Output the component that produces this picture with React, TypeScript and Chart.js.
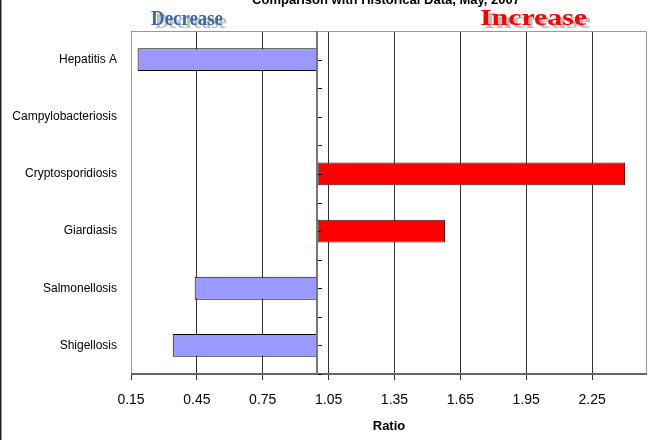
import React, { useEffect, useRef } from "react";
import { Chart, registerables } from "chart.js";

Chart.register(...registerables);

const categories = [
  "Hepatitis A",
  "Campylobacteriosis",
  "Cryptosporidiosis",
  "Giardiasis",
  "Salmonellosis",
  "Shigellosis",
];
const ratios: (number | null)[] = [0.18, null, 2.4, 1.58, 0.44, 0.34];
const baseline = 1.0;
const xTickValues = [0.15, 0.45, 0.75, 1.05, 1.35, 1.65, 1.95, 2.25];
const xMin = 0.15;
const xMax = 2.5;
const titleText = "Comparison with Historical Data, May, 2007";
const axisTitle = "Ratio";
const decreaseText = "Decrease";
const increaseText = "Increase";

const SANS = "'Liberation Sans', Arial, sans-serif";
const SERIF = "'Liberation Serif', 'Times New Roman', serif";

const overlay = {
  id: "overlay",
  afterDatasetsDraw(chart: any) {
    const { ctx, chartArea: a, scales } = chart;
    const x = scales.x;
    const y = scales.y;
    ctx.save();
    ctx.strokeStyle = "#999";
    ctx.lineWidth = 1;
    ctx.beginPath();
    ctx.moveTo(a.left + 0.5, a.bottom);
    ctx.lineTo(a.left + 0.5, a.top + 0.5);
    ctx.lineTo(a.right - 0.5, a.top + 0.5);
    ctx.lineTo(a.right - 0.5, a.bottom);
    ctx.stroke();
    ctx.strokeStyle = "#666";
    ctx.lineWidth = 2;
    ctx.beginPath();
    ctx.moveTo(a.left, a.bottom);
    ctx.lineTo(a.right, a.bottom);
    ctx.stroke();
    const bx = Math.round(x.getPixelForValue(baseline));
    ctx.strokeStyle = "#777";
    ctx.lineWidth = 2;
    ctx.beginPath();
    ctx.moveTo(bx - 1, a.top);
    ctx.lineTo(bx - 1, a.bottom);
    ctx.stroke();
    ctx.strokeStyle = "#000";
    ctx.lineWidth = 1;
    const n = categories.length;
    const h = (a.bottom - a.top) / n;
    ctx.beginPath();
    for (let i = 0; i < n; i++) {
      const c = Math.round(y.getPixelForValue(i)) + 0.5;
      const b = Math.round(y.getPixelForValue(i) + h / 2) + 0.5;
      ctx.moveTo(bx, c);
      ctx.lineTo(bx + 4, c);
      ctx.moveTo(bx, b);
      ctx.lineTo(bx + 4, b);
    }
    ctx.stroke();
    ctx.restore();
  },
  afterDraw(chart: any) {
    const { ctx, chartArea: a } = chart;
    ctx.save();
    ctx.fillStyle = "#222";
    ctx.fillRect(0, 0, 1.5, chart.height);
    ctx.fillStyle = "#000";
    ctx.font = `bold 13px ${SANS}`;
    ctx.textAlign = "center";
    ctx.textBaseline = "alphabetic";
    ctx.fillText(titleText, (a.left + a.right) / 2 - 3, 4);

    const drawWord = (
      text: string,
      left: number,
      base: number,
      size: number,
      width: number,
      color: string
    ) => {
      ctx.font = `bold ${size}px ${SERIF}`;
      ctx.textAlign = "left";
      const m = ctx.measureText(text).width;
      const sx = width / m;
      ctx.save();
      ctx.translate(left, base);
      ctx.scale(sx, 1);
      ctx.fillStyle = "#bdbdbd";
      ctx.fillText(text, 4 / sx, 3);
      ctx.fillStyle = color;
      ctx.fillText(text, 0, 0);
      ctx.restore();
    };
    drawWord(decreaseText, 151, 25, 20, 72, "#3A6BA5");
    drawWord(increaseText, 480, 25, 24, 107, "#FF0000");
    ctx.restore();
  },
};

export default function App() {
  const ref = useRef<HTMLCanvasElement | null>(null);
  useEffect(() => {
    document.body.style.margin = "0";
    const canvas = ref.current;
    if (!canvas) return;
    const data = ratios.map((v) =>
      v == null ? null : [Math.min(v, baseline), Math.max(v, baseline)]
    );
    const chart = new Chart(canvas, {
      type: "bar",
      data: {
        labels: categories,
        datasets: [
          {
            data: data as any,
            backgroundColor: ratios.map((v) =>
              v != null && v >= baseline ? "#FF0000" : "#9999FF"
            ),
            borderColor: ratios.map((v) =>
              v != null && v >= baseline ? "#3a1a1a" : "#000000"
            ),
            borderWidth: 1,
            borderSkipped: false,
            barPercentage: 0.4,
            categoryPercentage: 1,
          },
        ],
      },
      plugins: [overlay],
      options: {
        indexAxis: "y",
        animation: false,
        responsive: false,
        layout: { padding: { top: 31, right: 13, left: 0, bottom: 0 } },
        plugins: {
          legend: { display: false },
          tooltip: { enabled: false },
          title: { display: false },
        },
        scales: {
          x: {
            type: "linear",
            min: xMin,
            max: xMax,
            afterBuildTicks: (scale: any) => {
              scale.ticks = xTickValues.map((v) => ({ value: v }));
            },
            afterFit: (scale: any) => {
              scale.height = 66;
            },
            grid: {
              color: "#333",
              lineWidth: 1,
              drawTicks: true,
              tickLength: 6,
              tickColor: "#333",
            },
            border: { display: false },
            ticks: {
              color: "#000",
              font: { family: SANS, size: 14 },
              padding: 12,
              maxRotation: 0,
              callback: (v: any) => Number(v).toFixed(2),
            },
            title: {
              display: true,
              text: axisTitle,
              color: "#000",
              font: { family: SANS, size: 13, weight: "bold" },
              padding: { top: 0, bottom: 6 },
            },
          },
          y: {
            type: "category",
            afterFit: (scale: any) => {
              scale.width = 131;
            },
            grid: { display: false, drawTicks: false },
            border: { display: false },
            ticks: {
              color: "#000",
              font: { family: SANS, size: 12 },
              padding: 14,
            },
          },
        },
      } as any,
    });
    return () => chart.destroy();
  }, []);
  return (
    <canvas
      ref={ref}
      width={660}
      height={440}
      style={{ display: "block", width: 660, height: 440 }}
    />
  );
}
